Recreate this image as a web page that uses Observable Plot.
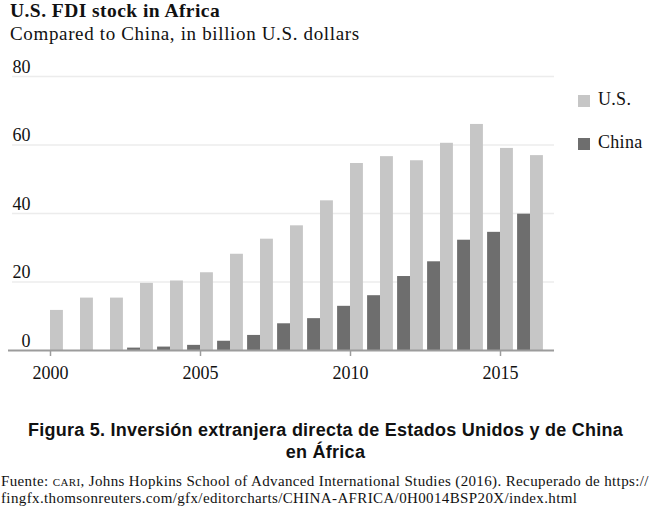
<!DOCTYPE html>
<html>
<head>
<meta charset="utf-8">
<script src="https://cdn.jsdelivr.net/npm/d3@7"></script>
<script src="https://cdn.jsdelivr.net/npm/@observablehq/plot@0.6"></script>
<style>
  body { margin: 0; background: #fff; }
  #wrap { position: relative; width: 651px; height: 510px; overflow: hidden; font-family: "Liberation Serif", serif; color: #111; }
  .abs { position: absolute; white-space: nowrap; }
  #title { left: 10px; top: 0px; font-size: 19.5px; letter-spacing: 0.45px; font-weight: bold; font-family: "Liberation Serif", serif; }
  #subtitle { left: 10px; top: 23px; font-size: 19px; letter-spacing: 0.65px; font-family: "Liberation Serif", serif; }
  #chart { position: absolute; left: 0; top: 50px; }
  .leg { position: absolute; left: 598px; font-size: 18px; font-family: "Liberation Serif", serif; letter-spacing: 0.3px; }
  .sw { position: absolute; width: 12px; height: 12px; left: 578px; }
  #caption { position: absolute; left: 0; width: 651px; top: 419px; text-align: center; font-family: "Liberation Sans", Arial, sans-serif; font-weight: bold; font-size: 18px; letter-spacing: 0.25px; line-height: 22px; }
  #source { position: absolute; left: 1px; top: 473px; font-size: 15px; letter-spacing: 0.37px; line-height: 17px; white-space: nowrap; font-family: "Liberation Serif", serif; }
  .sc { font-variant: small-caps; text-transform: lowercase; }
</style>
</head>
<body>
<div id="wrap">
  <div id="title" class="abs">U.S. FDI stock in Africa</div>
  <div id="subtitle" class="abs">Compared to China, in billion U.S. dollars</div>
  <div id="chart"></div>
  <div id="legend"></div>
  <div id="caption">Figura 5. Inversión extranjera directa de Estados Unidos y de China<br>en África</div>
  <div id="source">Fuente: <span class="sc">CARI</span>, Johns Hopkins School of Advanced International Studies (2016). Recuperado de https://<br>fingfx.thomsonreuters.com/gfx/editorcharts/CHINA-AFRICA/0H0014BSP20X/index.html</div>
</div>
<script>
const years = [2000, 2001, 2002, 2003, 2004, 2005, 2006, 2007, 2008, 2009, 2010, 2011, 2012, 2013, 2014, 2015, 2016];
const usValues = [11.7, 15.3, 15.3, 19.6, 20.3, 22.7, 28.1, 32.5, 36.4, 43.7, 54.6, 56.6, 55.4, 60.5, 66.0, 59.0, 56.9];
const chinaValues = [null, null, null, 0.7, 1.0, 1.5, 2.7, 4.4, 7.8, 9.3, 12.9, 16.0, 21.6, 25.9, 32.2, 34.5, 39.8];
const seriesNames = ["U.S.", "China"];
const seriesColors = ["#c6c6c6", "#6e6e6e"];
const yTicks = [0, 20, 40, 60, 80];
const xTicks = [2000, 2005, 2010, 2015];

const barW = 0.43;
const usData = years.map((year, i) => ({year, value: usValues[i]}));
const chinaData = years.map((year, i) => ({year, value: chinaValues[i]})).filter(d => d.value != null);

const serif = "'Liberation Serif', serif";
const chart = Plot.plot({
  width: 651,
  height: 340,
  marginLeft: 8,
  marginRight: 97,
  marginTop: 26,
  marginBottom: 40,
  style: "font-family: 'Liberation Serif', serif; font-size: 18px; color: #111; background: transparent;",
  x: {domain: [1998.6, 2016.8]},
  y: {domain: [0, 80]},
  marks: [
    Plot.ruleY(yTicks.filter(d => d > 0), {stroke: "#ececec", strokeWidth: 1.5, insetLeft: 4}),
    Plot.text(yTicks, {y: d => d, text: d => String(d), frameAnchor: "left", textAnchor: "end", lineAnchor: "bottom", dx: 22, dy: -4, fontSize: 18, fontFamily: serif, fill: "#111"}),
    Plot.rectY(chinaData, {x1: d => d.year - barW, x2: d => d.year, y: "value", fill: seriesColors[1]}),
    Plot.rectY(usData, {x1: d => d.year, x2: d => d.year + barW, y: "value", fill: seriesColors[0]}),
    Plot.ruleY([0], {stroke: "#9c9c9c", strokeWidth: 2}),
    Plot.axisX({ticks: xTicks, tickFormat: d => String(d), tickSize: 6, tickPadding: 10, stroke: "#9c9c9c", strokeWidth: 1.5, strokeOpacity: 1, fontSize: 18, fontFamily: serif, fill: "#111", label: null}),
    Plot.axisY({ticks: [], label: null})
  ]
});
document.getElementById("chart").appendChild(chart);

const legend = document.getElementById("legend");
const legTops = [95, 138];
seriesNames.forEach((name, i) => {
  const sw = document.createElement("div");
  sw.className = "sw";
  sw.style.top = legTops[i] + "px";
  sw.style.background = seriesColors[i];
  legend.appendChild(sw);
  const t = document.createElement("div");
  t.className = "leg";
  t.style.top = (legTops[i] - 6) + "px";
  t.textContent = name;
  legend.appendChild(t);
});
</script>
</body>
</html>
